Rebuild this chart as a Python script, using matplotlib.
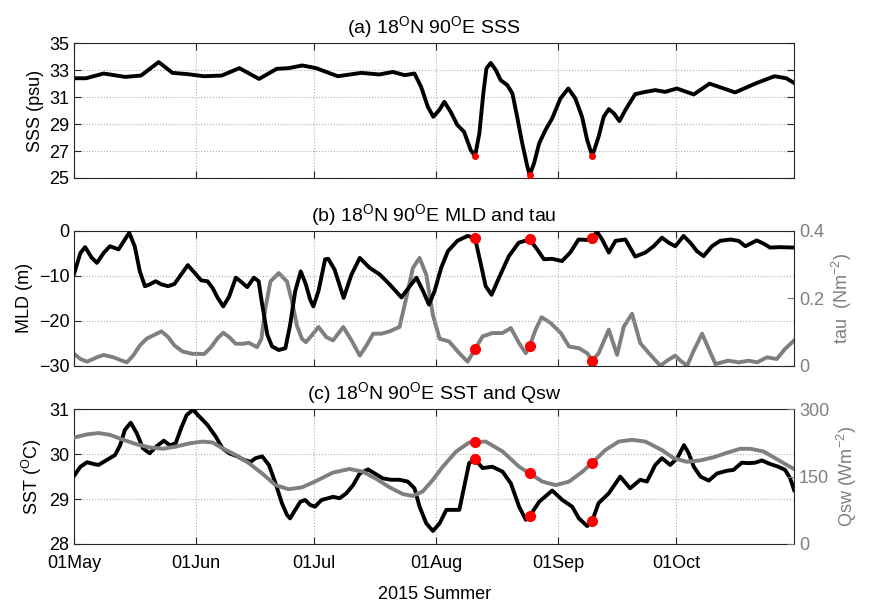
#!/usr/bin/env python3

import numpy as np
import matplotlib
matplotlib.use('Agg')
from matplotlib import pyplot as plt
import matplotlib.dates as mdates

# days since 01 May 2015
sss_day = [0, 3, 7.5, 13, 17, 21.5, 25, 29, 33, 37.5, 42, 47, 51.5, 54.5, 58, 61.5, 67, 73,
           77.6, 81, 84, 86.5, 88.2, 89.9, 91.3, 92.8, 94.1, 95.7, 97.4, 99.1, 100.8, 101.9,
           103, 104, 104.8, 105.9, 107.2, 108.4, 110.1, 111.4, 112.6, 113.9, 115.2, 115.8,
           116.9, 118.2, 119.8, 121.5, 123.6, 125.6, 127.4, 129.1, 130.4, 131.7, 133.3,
           134.6, 135.9, 137.2, 138.6, 140.1, 142.6, 145.2, 147.7, 150.2, 153.2, 157.5,
           161.5, 168, 173.5, 178, 181, 183]
sss = [32.4, 32.4, 32.75, 32.5, 32.6, 33.6, 32.8, 32.7, 32.55, 32.6, 33.15, 32.35, 33.1,
       33.15, 33.35, 33.15, 32.55, 32.8, 32.68, 32.87, 32.63, 32.75, 31.76, 30.28, 29.54,
       30.04, 30.65, 29.91, 28.93, 28.43, 27.07, 26.63, 28.31, 31.27, 33.13, 33.54, 33.0,
       32.26, 31.89, 31.27, 29.54, 27.57, 25.84, 25.22, 26.09, 27.57, 28.56, 29.42, 30.9,
       31.64, 30.9, 29.54, 27.81, 26.63, 28.06, 29.54, 30.11, 29.79, 29.22, 30.04, 31.22,
       31.39, 31.52, 31.39, 31.64, 31.2, 32.0, 31.35, 32.05, 32.55, 32.4, 32.05]

mld_day = [0, 1.6, 2.8, 4.5, 5.8, 7.5, 9.1, 11.3, 12.9, 14, 15.4, 16.7, 18, 19.2, 20.7,
           22.2, 23.9, 25.5, 27.2, 28.9, 30.6, 32.3, 33.9, 35.2, 36.5, 37.9, 39.4, 41.1,
           42.3, 44, 45.7, 46.9, 47.8, 49.1, 50.3, 52, 53.7, 54.9, 56.2, 57.6, 58.9, 60,
           60.8, 62.1, 63.8, 64.6, 66.2, 68.5, 70.5, 72.6, 75.1, 77.7, 80.2, 83.2, 85.3, 87,
           88.7, 90.2, 91.6, 93.3, 95, 97.4, 100, 101.9, 103.3, 104.6, 106.1, 108, 110.5,
           113, 115.8, 117.7, 119.4, 121.5, 124, 126.1, 128.2, 130.3, 131.7, 132.9, 134.2,
           135.9, 137.6, 140.1, 142.6, 145.2, 147.3, 149.4, 151.1, 152.8, 154.9, 156.6,
           158.3, 160, 162.1, 164.2, 166.8, 168.9, 170.6, 173.5, 175.2, 176.9, 179.4, 183]
mld = [-9.5, -4.9, -3.6, -6, -7.1, -4.9, -3.4, -4.1, -1.9, -0.4, -3.4, -9, -12.3, -11.9,
       -11.2, -11.9, -12.3, -11.8, -9.7, -7.6, -9.3, -11, -11.2, -12.7, -14.9, -16.8, -14.6,
       -10.4, -11.2, -12.5, -10.4, -11.2, -16.4, -23.1, -25.7, -26.5, -26.1, -20.9, -13.4,
       -9, -11.9, -15.3, -16.8, -13.4, -6.3, -6.2, -8.6, -14.9, -9.7, -6, -8.2, -9.7, -11.9,
       -14.8, -12.3, -10.4, -13.4, -16.4, -13.4, -8.2, -4.5, -2.2, -1.1, -1.6, -7.1, -12.3,
       -14.2, -10.4, -5.6, -2.6, -1.9, -4.1, -6.3, -6.2, -6.7, -4.8, -1.9, -2, -1.5, -0.2,
       -1.9, -4.8, -2.2, -1.9, -5.7, -4.8, -3.4, -1.5, -2.6, -3.4, -1.1, -2.6, -4.5, -5.6,
       -3.4, -2.2, -1.9, -2.2, -3.4, -2.1, -2.8, -3.7, -3.6, -3.7]

tau_day = [0, 1.6, 3.3, 5.8, 7.5, 10, 11.7, 13.4, 15, 16.7, 18.4, 20.1, 22.2, 23.9, 25.5,
           27.6, 30.2, 33.1, 34.8, 36.5, 37.9, 39.4, 41.1, 42.8, 44.4, 46.5, 47.6, 48.6,
           49.9, 52, 54.1, 55.4, 56.6, 57.9, 58.9, 60.4, 62.1, 64.1, 65.8, 68.4, 70.5, 72.6,
           74.3, 76, 78.1, 80.2, 82.7, 84.4, 86.1, 87.8, 89.5, 91.2, 92.9, 95.3, 97.9, 100,
           101.9, 103.8, 106.3, 108.9, 111, 113.1, 114.8, 115.8, 117.3, 118.8, 121.1, 123.7,
           125.8, 128.3, 130.4, 131.7, 133.3, 135.9, 138, 139.7, 141.8, 143.9, 146.1, 149,
           150.7, 152.8, 154.1, 155.8, 157.5, 159.6, 161.3, 163, 164.6, 166.3, 168.9, 171.5,
           173.6, 176.1, 178.6, 180.7, 183]
tau = [0.035, 0.02, 0.012, 0.025, 0.032, 0.025, 0.017, 0.01, 0.03, 0.06, 0.08, 0.09, 0.102,
       0.085, 0.06, 0.042, 0.035, 0.035, 0.055, 0.082, 0.098, 0.085, 0.065, 0.065, 0.068,
       0.055, 0.08, 0.17, 0.25, 0.275, 0.25, 0.19, 0.12, 0.08, 0.07, 0.09, 0.115, 0.085,
       0.075, 0.115, 0.075, 0.03, 0.06, 0.095, 0.095, 0.102, 0.115, 0.2, 0.29, 0.32, 0.27,
       0.15, 0.08, 0.072, 0.037, 0.012, 0.049, 0.087, 0.097, 0.097, 0.112, 0.067, 0.037,
       0.059, 0.107, 0.144, 0.127, 0.097, 0.057, 0.052, 0.037, 0.015, 0.037, 0.107, 0.032,
       0.116, 0.154, 0.067, 0.037, 0.0, 0.015, 0.03, 0.015, 0.0, 0.045, 0.095, 0.05, 0.005,
       0.01, 0.015, 0.01, 0.015, 0.01, 0.025, 0.02, 0.05, 0.075]

sst_day = [0, 1.6, 3.3, 5, 6.2, 8.3, 10.4, 11.7, 12.9, 14.4, 15.9, 17.5, 19.2, 20.9, 22.8,
           24.3, 25.8, 27.2, 28.6, 30.2, 31.8, 33.9, 36, 37.7, 39.4, 41.5, 43.2, 44.9, 46.1,
           47.8, 49.5, 51.2, 52.8, 54.1, 54.9, 56.2, 57.5, 58.7, 60, 61.2, 62.9, 64.6, 65.8,
           67.5, 69.2, 70.9, 72.6, 74.7, 76.4, 78.5, 80.6, 82.7, 84.8, 86.5, 87.8, 89.5,
           91.2, 92.9, 94.6, 97.9, 100.4, 101.9, 103.8, 106.3, 108.9, 111, 113.1, 114.8,
           115.8, 118.2, 121.5, 124.1, 126.6, 128.3, 130.4, 131.7, 133.3, 135.9, 138.8,
           141.3, 143.9, 145.6, 147.7, 149.4, 151.5, 153.3, 155, 156.2, 157.5, 159.2, 161.3,
           163.4, 165.9, 167.6, 169.7, 171.4, 173.1, 174.8, 176.9, 179, 180.7, 182, 183]
sst = [29.52, 29.72, 29.82, 29.78, 29.76, 29.87, 29.98, 30.2, 30.54, 30.7, 30.47, 30.13,
       30.02, 30.17, 30.3, 30.2, 30.24, 30.58, 30.87, 30.99, 30.84, 30.65, 30.39, 30.13,
       30.02, 29.95, 29.87, 29.83, 29.91, 29.95, 29.76, 29.35, 28.91, 28.65, 28.57, 28.76,
       28.94, 28.98, 28.87, 28.83, 28.98, 29.02, 29.05, 29.02, 29.13, 29.31, 29.57, 29.66,
       29.57, 29.46, 29.43, 29.43, 29.39, 29.24, 28.83, 28.46, 28.29, 28.46, 28.76, 28.76,
       29.8, 29.89, 29.69, 29.72, 29.61, 29.35, 28.83, 28.54, 28.62, 28.94, 29.19, 28.98,
       28.83, 28.57, 28.4, 28.52, 28.91, 29.13, 29.5, 29.24, 29.43, 29.39, 29.76, 29.91,
       29.76, 29.91, 30.2, 30.02, 29.72, 29.5, 29.41, 29.57, 29.63, 29.65, 29.81, 29.8,
       29.81, 29.86, 29.78, 29.72, 29.65, 29.46, 29.2]

qsw_day = [0, 3.3, 6.2, 9.1, 12.5, 15.9, 19.2, 22.6, 26, 29.3, 32.7, 35.2, 37.7, 41.1,
           44.4, 47.8, 51.2, 54.5, 57.9, 61.2, 65.8, 70, 73.4, 76.8, 80.2, 83.6, 86.1, 88.6,
           91.2, 93.7, 97.1, 100.4, 104.6, 108.9, 113.1, 115.8, 119, 122.4, 125.8, 129.2,
           131.7, 135, 138.4, 141.8, 145.2, 149.4, 152.4, 155.7, 159.1, 162.5, 165.9, 169.3,
           171.8, 175.2, 178.6, 181.1, 183]
qsw = [237, 244, 247, 243, 232, 222, 215, 212, 217, 224, 228, 226, 213, 198, 180, 157, 131,
       122, 126, 139, 159, 167, 161, 145, 126, 111, 107, 117, 143, 172, 206, 226, 228, 206,
       172, 157, 139, 131, 139, 161, 181, 209, 228, 232, 228, 209, 191, 183, 186, 193, 203,
       212, 212, 206, 189, 176, 167]

# red marks: 11 Aug, 25 Aug, 10 Sep
mark_day = [101.9, 115.8, 131.7]
mark_sss = [26.65, 25.25, 26.65]
mark_mld = [-1.6, -1.9, -1.5]
mark_tau = [0.049, 0.059, 0.015]
mark_sst = [29.89, 28.62, 28.52]
mark_qsw = [226, 157, 181]

start = mdates.date2num(np.datetime64('2015-05-01'))
def t(d):
  return start + np.asarray(d, dtype=float)

plt.rcParams['font.family'] = ['Liberation Sans Narrow', 'Liberation Sans', 'DejaVu Sans']
plt.rcParams['mathtext.default'] = 'regular'
plt.rcParams['font.size'] = 13

gray = '#7f7f7f'
fig = plt.figure(figsize=(8.72, 6.07), dpi=100)
L, W, H = 0.085, 0.8257, 0.222
ax1 = fig.add_axes([L, 0.7068, W, H])
ax2 = fig.add_axes([L, 0.3975, W, H])
ax3 = fig.add_axes([L, 0.1038, W, H])

def style(ax):
  ax.set_xlim(t(0), t(183))
  ax.xaxis.set_major_locator(mdates.MonthLocator())
  ax.xaxis.set_major_formatter(mdates.DateFormatter('%d%b'))
  ax.grid(True, linestyle=':', color='#b0b0b0', linewidth=0.8)
  ax.tick_params(direction='in', top=True, right=True, length=5, width=0.8, colors='#262626')
  ax.tick_params(labelcolor='black')
  ax.tick_params(axis='x', pad=8)
  for s in ax.spines.values():
    s.set_color('#262626')
    s.set_linewidth(0.8)

def twin(ax, color):
  axr = ax.twinx()
  axr.tick_params(direction='in', length=5, width=0.8, colors=color)
  for s in axr.spines.values():
    s.set_visible(False)
  return axr

# (a)
style(ax1)
ax1.plot(t(sss_day), sss, color='k', lw=2.8)
ax1.plot(t(mark_day), mark_sss, 'o', color='red', ms=4, zorder=5)
ax1.set_ylim(25, 35)
ax1.set_yticks(np.arange(25, 36, 2))
ax1.set_xticklabels([])
ax1.set_ylabel('SSS (psu)')
ax1.set_title('(a) 18$^{O}$N 90$^{O}$E SSS', pad=7, fontsize=14)

# (b)
style(ax2)
ax2.plot(t(mld_day), mld, color='k', lw=2.8, zorder=3)
ax2.plot(t(mark_day), mark_mld, 'o', color='red', ms=7, zorder=5)
ax2.set_ylim(-30, 0)
ax2.set_yticks([-30, -20, -10, 0])
ax2.set_xticklabels([])
ax2.set_ylabel('MLD (m)')
ax2.set_title('(b) 18$^{O}$N 90$^{O}$E MLD and tau', pad=7, fontsize=14)
ax2r = twin(ax2, gray)
ax2r.plot(t(tau_day), tau, color=gray, lw=2.8)
ax2r.plot(t(mark_day), mark_tau, 'o', color='red', ms=7, zorder=5)
ax2r.set_ylim(0, 0.4)
ax2r.set_yticks([0, 0.2, 0.4])
ax2r.set_yticklabels(['0', '0.2', '0.4'])
ax2r.set_ylabel('tau  (Nm$^{-2}$)', color=gray)
ax2.set_zorder(ax2r.get_zorder() + 1)
ax2.patch.set_visible(False)

# (c)
style(ax3)
ax3.plot(t(sst_day), sst, color='k', lw=2.8, zorder=3)
ax3.plot(t(mark_day), mark_sst, 'o', color='red', ms=7, zorder=5)
ax3.set_ylim(28, 31)
ax3.set_yticks([28, 29, 30, 31])
ax3.set_ylabel('SST ($^{O}$C)')
ax3.set_xlabel('2015 Summer', labelpad=10)
ax3.set_title('(c) 18$^{O}$N 90$^{O}$E SST and Qsw', pad=7, fontsize=14)
ax3r = twin(ax3, gray)
ax3r.plot(t(qsw_day), qsw, color=gray, lw=2.8)
ax3r.plot(t(mark_day), mark_qsw, 'o', color='red', ms=7, zorder=5)
ax3r.set_ylim(0, 300)
ax3r.set_yticks([0, 150, 300])
ax3r.set_ylabel('Qsw (Wm$^{-2}$)', color=gray)

plt.savefig('out.png', dpi=100)
